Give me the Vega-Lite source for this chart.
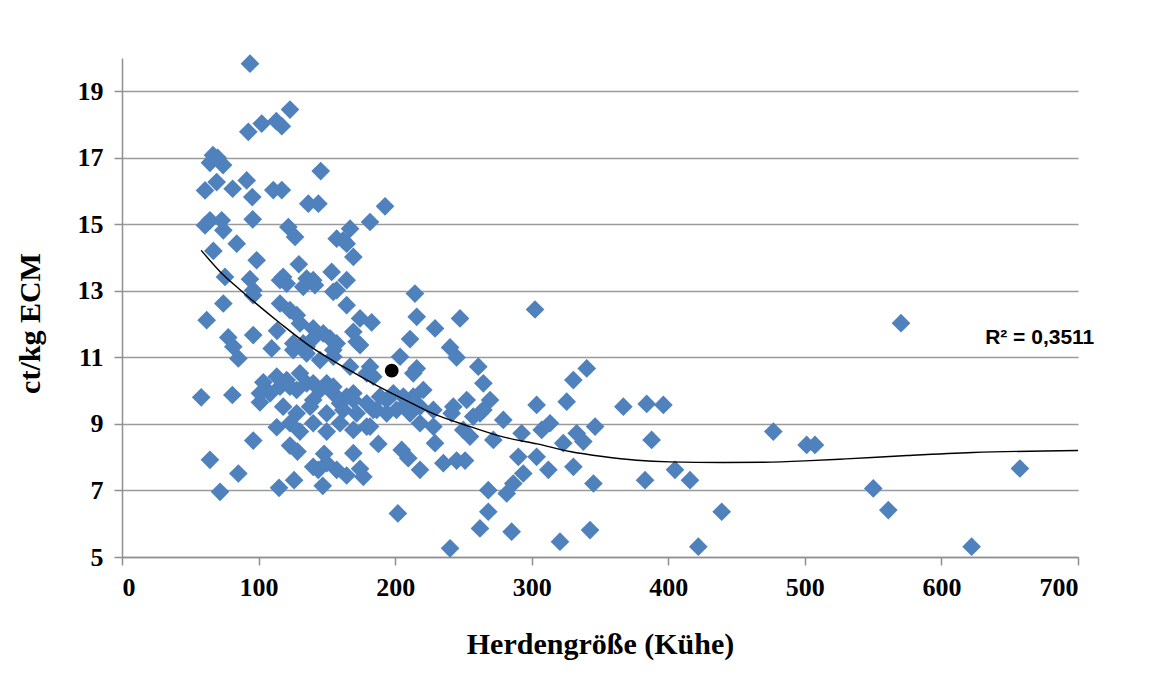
{
  "$schema": "https://vega.github.io/schema/vega-lite/v6.json",
  "width": 956,
  "height": 499,
  "autosize": {"type": "none"},
  "padding": {"left": 122, "top": 58, "right": 88, "bottom": 121},
  "background": "white",
  "config": {
    "view": {"stroke": null},
    "axis": {
      "domainColor": "#8f8f8f",
      "domainWidth": 1.5,
      "tickColor": "#8f8f8f",
      "tickWidth": 1.5,
      "tickSize": 8,
      "gridColor": "#9a9a9a",
      "gridWidth": 1.5,
      "labelFont": "Liberation Serif",
      "labelFontWeight": "bold",
      "labelFontSize": 26,
      "labelColor": "#000000",
      "titleFont": "Liberation Serif",
      "titleFontWeight": "bold",
      "titleFontSize": 30,
      "titleColor": "#000000"
    }
  },
  "datasets": {
    "points": [
      {"x":93.7,"y":19.83},{"x":123,"y":18.45},{"x":92.5,"y":17.78},{"x":102.3,"y":18.03},{"x":113,"y":18.1},{"x":117,"y":17.95},{"x":66.6,"y":17.08},{"x":64.4,"y":16.85},{"x":74,"y":16.78},{"x":70,"y":17.0},{"x":69.3,"y":16.27},{"x":60.8,"y":16.02},{"x":81,"y":16.07},{"x":91.3,"y":16.32},{"x":95.4,"y":15.82},{"x":110.8,"y":16.03},{"x":117,"y":16.03},{"x":145.5,"y":16.6},{"x":136.4,"y":15.62},{"x":143.8,"y":15.62},{"x":192.6,"y":15.54},{"x":181.6,"y":15.07},{"x":60.8,"y":14.97},{"x":64.4,"y":15.12},{"x":73,"y":15.12},{"x":74.2,"y":14.82},{"x":95.7,"y":15.15},{"x":66.9,"y":14.2},{"x":84,"y":14.42},{"x":121.8,"y":14.92},{"x":126.7,"y":14.62},{"x":157.2,"y":14.57},{"x":162,"y":14.52},{"x":167,"y":14.87},{"x":164.5,"y":14.42},{"x":169.4,"y":14.02},{"x":98.6,"y":13.92},{"x":129.5,"y":13.8},{"x":75.4,"y":13.42},{"x":93.7,"y":13.35},{"x":96.1,"y":13.02},{"x":115.7,"y":13.32},{"x":118,"y":13.42},{"x":135.2,"y":13.37},{"x":140,"y":13.32},{"x":132.7,"y":13.12},{"x":141.3,"y":13.17},{"x":153.5,"y":13.57},{"x":164.5,"y":13.32},{"x":154.7,"y":12.97},{"x":214.5,"y":12.92},{"x":74.2,"y":12.62},{"x":62,"y":12.12},{"x":96,"y":12.87},{"x":115.7,"y":12.62},{"x":123,"y":12.42},{"x":128,"y":12.27},{"x":164.5,"y":12.57},{"x":174.3,"y":12.17},{"x":182.8,"y":12.05},{"x":215.8,"y":12.22},{"x":229.2,"y":11.87},{"x":247.5,"y":12.17},{"x":302.4,"y":12.44},{"x":570.4,"y":12.03},{"x":96.1,"y":11.67},{"x":77.8,"y":11.6},{"x":81.5,"y":11.32},{"x":85.2,"y":10.97},{"x":109.6,"y":11.27},{"x":113.5,"y":11.8},{"x":125.4,"y":11.22},{"x":132.7,"y":11.42},{"x":140,"y":11.57},{"x":147.4,"y":11.72},{"x":152.3,"y":11.57},{"x":157.2,"y":11.42},{"x":169.4,"y":11.77},{"x":174.3,"y":11.37},{"x":154.7,"y":11.22},{"x":135.2,"y":11.32},{"x":210.9,"y":11.55},{"x":240.2,"y":11.3},{"x":245,"y":11.0},{"x":181.6,"y":10.72},{"x":203.6,"y":11.02},{"x":215.8,"y":10.67},{"x":260.9,"y":10.72},{"x":264.6,"y":10.22},{"x":58,"y":9.8},{"x":80.8,"y":9.87},{"x":103.5,"y":10.25},{"x":108.4,"y":9.92},{"x":101,"y":9.65},{"x":115.7,"y":10.12},{"x":120.6,"y":10.32},{"x":127.9,"y":10.02},{"x":135.2,"y":10.22},{"x":140,"y":9.72},{"x":145,"y":10.02},{"x":149.9,"y":10.22},{"x":154.7,"y":9.92},{"x":159.6,"y":9.62},{"x":164.5,"y":9.82},{"x":169.4,"y":9.72},{"x":179.2,"y":9.62},{"x":188.9,"y":9.82},{"x":198.7,"y":9.92},{"x":208.5,"y":9.62},{"x":213.3,"y":9.82},{"x":218.2,"y":9.52},{"x":228,"y":9.42},{"x":242.6,"y":9.52},{"x":252.4,"y":9.72},{"x":257.2,"y":9.22},{"x":269.5,"y":9.72},{"x":262.1,"y":9.32},{"x":279.2,"y":9.12},{"x":292.6,"y":8.72},{"x":303.6,"y":9.57},{"x":313.4,"y":9.02},{"x":307.3,"y":8.82},{"x":325.6,"y":9.67},{"x":330.5,"y":10.32},{"x":340.3,"y":10.67},{"x":367.1,"y":9.52},{"x":384.2,"y":9.6},{"x":396.4,"y":9.57},{"x":346.4,"y":8.92},{"x":332.9,"y":8.72},{"x":337.8,"y":8.47},{"x":323.1,"y":8.42},{"x":387.8,"y":8.52},{"x":271.9,"y":8.52},{"x":254.8,"y":8.62},{"x":229.2,"y":8.42},{"x":187.7,"y":8.4},{"x":204.8,"y":8.22},{"x":209.6,"y":7.97},{"x":218.2,"y":7.62},{"x":235.3,"y":7.82},{"x":245,"y":7.9},{"x":251.2,"y":7.9},{"x":290.2,"y":8.01},{"x":303.6,"y":8.01},{"x":312.2,"y":7.62},{"x":330.5,"y":7.71},{"x":345.2,"y":7.21},{"x":383,"y":7.31},{"x":293.8,"y":7.51},{"x":286.5,"y":7.21},{"x":281.7,"y":6.91},{"x":268.2,"y":7.01},{"x":202,"y":6.31},{"x":268.2,"y":6.36},{"x":262.1,"y":5.86},{"x":285.3,"y":5.76},{"x":320.7,"y":5.46},{"x":342.7,"y":5.81},{"x":240.2,"y":5.26},{"x":404.9,"y":7.62},{"x":415.9,"y":7.31},{"x":439.1,"y":6.36},{"x":422,"y":5.31},{"x":476.9,"y":8.77},{"x":501.3,"y":8.37},{"x":507.4,"y":8.37},{"x":550.1,"y":7.06},{"x":561.1,"y":6.41},{"x":622.1,"y":5.31},{"x":657.5,"y":7.66},{"x":113.3,"y":8.9},{"x":123,"y":9.02},{"x":130.3,"y":8.77},{"x":140,"y":9.02},{"x":149.9,"y":8.77},{"x":159.6,"y":9.02},{"x":169.4,"y":8.82},{"x":179.2,"y":8.92},{"x":249.9,"y":8.82},{"x":96.1,"y":8.5},{"x":64.4,"y":7.92},{"x":85.2,"y":7.51},{"x":71.8,"y":6.96},{"x":115,"y":7.08},{"x":126,"y":7.31},{"x":123,"y":8.35},{"x":128.5,"y":8.17},{"x":148,"y":8.1},{"x":143.7,"y":7.62},{"x":149.9,"y":7.82},{"x":157.2,"y":7.62},{"x":164.5,"y":7.45},{"x":169.4,"y":8.12},{"x":174.3,"y":7.65},{"x":176.7,"y":7.41},{"x":147,"y":7.14},{"x":140,"y":7.71},{"x":120.6,"y":13.22},{"x":157.2,"y":13.02},{"x":130.3,"y":12.02},{"x":140,"y":11.87},{"x":171.8,"y":11.47},{"x":125.4,"y":11.42},{"x":135.2,"y":11.12},{"x":145,"y":10.92},{"x":154.7,"y":11.02},{"x":167,"y":10.72},{"x":179.2,"y":10.52},{"x":113.3,"y":10.42},{"x":123,"y":10.12},{"x":130.3,"y":10.52},{"x":140,"y":10.22},{"x":154.7,"y":10.12},{"x":169.4,"y":9.92},{"x":184,"y":9.42},{"x":193.8,"y":9.72},{"x":101,"y":9.92},{"x":118,"y":9.52},{"x":127.9,"y":9.32},{"x":137.7,"y":9.52},{"x":149.9,"y":9.32},{"x":162,"y":9.42},{"x":171.8,"y":9.32},{"x":193.8,"y":9.32},{"x":184,"y":10.42},{"x":213.3,"y":10.52},{"x":220.6,"y":10.02},{"x":206,"y":9.82},{"x":201,"y":9.42},{"x":210.9,"y":9.32},{"x":186.5,"y":9.42},{"x":181.6,"y":8.92},{"x":218.2,"y":9.02},{"x":228,"y":8.92},{"x":241.4,"y":9.32},{"x":264.6,"y":9.42}
    ],
    "trend": [
      {"x":58,"y":14.22},{"x":72,"y":13.57},{"x":86,"y":13.05},{"x":116,"y":12.02},{"x":140,"y":11.27},{"x":162,"y":10.72},{"x":186,"y":10.17},{"x":205,"y":9.77},{"x":230,"y":9.27},{"x":255,"y":8.92},{"x":279,"y":8.61},{"x":304,"y":8.4},{"x":328,"y":8.17},{"x":352,"y":8.02},{"x":377,"y":7.91},{"x":401,"y":7.86},{"x":440,"y":7.84},{"x":470,"y":7.85},{"x":500,"y":7.89},{"x":530,"y":7.95},{"x":575,"y":8.05},{"x":623,"y":8.14},{"x":700,"y":8.2}
    ],
    "highlight": [{"x":197.5,"y":10.6}],
    "label": [{"x":632,"y":11.58,"text":"R² = 0,3511"}]
  },
  "layer": [
    {
      "data": {"name": "points"},
      "mark": {"type": "point", "shape": "diamond", "filled": true, "size": 350, "color": "#4F81BD", "opacity": 1},
      "encoding": {
        "x": {
          "field": "x", "type": "quantitative",
          "scale": {"domain": [0, 700], "nice": false, "zero": false},
          "axis": {
            "values": [0, 100, 200, 300, 400, 500, 600, 700],
            "grid": false,
            "title": "Herdengröße (Kühe)",
            "labelPadding": 9,
            "titleBaseline": "middle",
            "titleY": 87
          }
        },
        "y": {
          "field": "y", "type": "quantitative",
          "scale": {"domain": [5, 20], "nice": false, "zero": false},
          "axis": {
            "values": [5, 7, 9, 11, 13, 15, 17, 19],
            "grid": true,
            "title": "ct/kg ECM",
            "labelPadding": 11,
            "titleAngle": -90,
            "titleBaseline": "middle",
            "titleAlign": "center",
            "titleX": -92,
            "titleY": 265
          }
        }
      }
    },
    {
      "data": {"name": "trend"},
      "mark": {"type": "line", "color": "#000000", "strokeWidth": 1.4, "interpolate": "monotone"},
      "encoding": {
        "x": {"field": "x", "type": "quantitative"},
        "y": {"field": "y", "type": "quantitative"}
      }
    },
    {
      "data": {"name": "highlight"},
      "mark": {"type": "point", "shape": "circle", "filled": true, "size": 190, "color": "#000000", "opacity": 1},
      "encoding": {
        "x": {"field": "x", "type": "quantitative"},
        "y": {"field": "y", "type": "quantitative"}
      }
    },
    {
      "data": {"name": "label"},
      "mark": {"type": "text", "align": "left", "baseline": "middle", "font": "Liberation Sans", "fontWeight": "bold", "fontSize": 21, "color": "#000000"},
      "encoding": {
        "x": {"field": "x", "type": "quantitative"},
        "y": {"field": "y", "type": "quantitative"},
        "text": {"field": "text"}
      }
    }
  ]
}
